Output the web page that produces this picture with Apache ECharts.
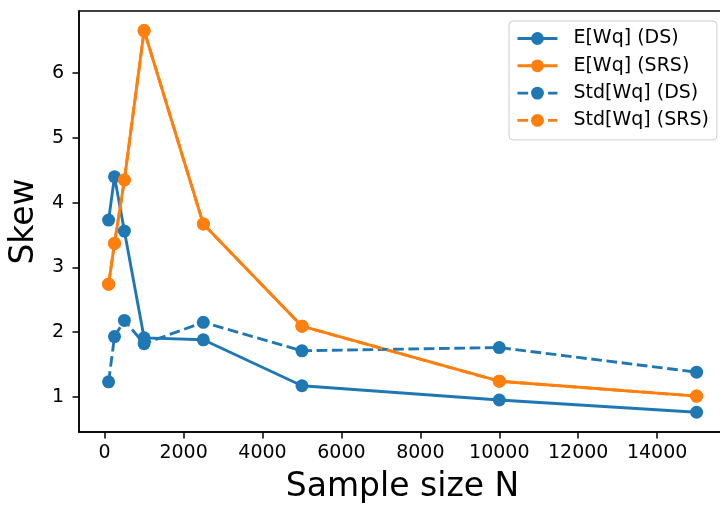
<!DOCTYPE html>
<html>
<head>
<meta charset="utf-8">
<script src="https://cdn.jsdelivr.net/npm/echarts@6/dist/echarts.min.js"></script>
<style>
html,body{margin:0;padding:0;background:#fff;}
#chart{width:720px;height:506px;}
</style>
</head>
<body>
<div id="chart"></div>
<script>
var sampleSizes = [100, 250, 500, 1000, 2500, 5000, 10000, 15000];
var meanDS   = [3.73, 4.40, 3.56, 1.91, 1.88, 1.17, 0.95, 0.76];
var meanSRS  = [2.74, 3.37, 4.35, 6.66, 3.67, 2.09, 1.24, 1.01];
var stdDS    = [1.23, 1.93, 2.18, 1.82, 2.15, 1.71, 1.76, 1.38];
var stdSRS   = [2.74, 3.37, 4.35, 6.66, 3.67, 2.09, 1.24, 1.01];
var seriesNames = ['E[Wq] (DS)', 'E[Wq] (SRS)', 'Std[Wq] (DS)', 'Std[Wq] (SRS)'];
var xTicks = [0, 2000, 4000, 6000, 8000, 10000, 12000, 14000];
var yTicks = [1, 2, 3, 4, 5, 6];

var BLUE = '#1f77b4', ORANGE = '#ff7f0e';
var FONT = 'DejaVu Sans';

function pairs(xs, ys) { return xs.map(function (x, i) { return [x, ys[i]]; }); }

function mkSeries(name, ys, color, dashed) {
  return {
    name: name,
    type: 'line',
    data: pairs(sampleSizes, ys),
    symbol: 'circle',
    symbolSize: 13,
    showSymbol: true,
    showAllSymbol: true,
    lineStyle: { color: color, width: 2.9, type: dashed ? [10.7, 4.6] : 'solid' },
    itemStyle: { color: color, borderWidth: 0 },
    emphasis: { disabled: true },
    animation: false
  };
}

var chart = echarts.init(document.getElementById('chart'), null, { renderer: 'canvas' });
chart.setOption({
  animation: false,
  backgroundColor: '#fff',
  textStyle: { fontFamily: FONT },
  grid: {
    left: 79, top: 11, width: 647, height: 421,
    show: true, borderColor: '#000', borderWidth: 1.5, backgroundColor: 'transparent',
    containLabel: false, outerBoundsMode: 'none'
  },
  legend: {
    data: seriesNames,
    orient: 'vertical',
    left: 509, top: 21,
    padding: [8, 8, 10, 7],
    itemWidth: 40, itemHeight: 16, itemGap: 8.3,
    backgroundColor: 'rgba(255,255,255,0.8)',
    borderColor: '#cccccc', borderWidth: 1, borderRadius: 4,
    lineStyle: { width: 2.9 },
    textStyle: { fontFamily: FONT, fontSize: 19, color: '#000', lineHeight: 16, padding: [0, 0, 0, 11] },
    selectedMode: false
  },
  xAxis: {
    type: 'value',
    min: -650, max: 15745,
    name: 'Sample size N', nameLocation: 'middle', nameGap: 39,
    nameTextStyle: { fontFamily: FONT, fontSize: 33, color: '#000' },
    axisLine: { show: true, onZero: false, lineStyle: { color: '#000', width: 1.5 } },
    axisTick: { show: true, inside: false, length: 6.5, lineStyle: { color: '#000', width: 1.5 }, customValues: xTicks },
    axisLabel: { show: true, margin: 12, fontFamily: FONT, fontSize: 19, color: '#000', customValues: xTicks,
      formatter: function (v) { return String(v); } },
    splitLine: { show: false }
  },
  yAxis: {
    type: 'value',
    min: 0.455, max: 6.962,
    name: 'Skew', nameLocation: 'middle', nameGap: 31, nameRotate: 90,
    nameTextStyle: { fontFamily: FONT, fontSize: 33, color: '#000' },
    axisLine: { show: true, onZero: false, lineStyle: { color: '#000', width: 1.5 } },
    axisTick: { show: true, inside: false, length: 6.5, lineStyle: { color: '#000', width: 1.5 }, customValues: yTicks },
    axisLabel: { show: true, margin: 15, fontFamily: FONT, fontSize: 19, color: '#000', customValues: yTicks,
      formatter: function (v) { return String(v); } },
    splitLine: { show: false }
  },
  series: [
    mkSeries(seriesNames[0], meanDS, BLUE, false),
    mkSeries(seriesNames[1], meanSRS, ORANGE, false),
    mkSeries(seriesNames[2], stdDS, BLUE, true),
    mkSeries(seriesNames[3], stdSRS, ORANGE, true)
  ]
});
</script>
</body>
</html>
